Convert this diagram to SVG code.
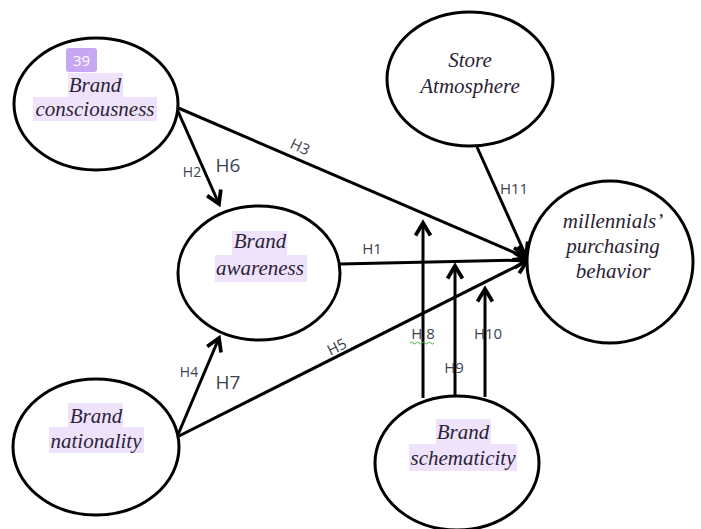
<svg xmlns="http://www.w3.org/2000/svg" width="701" height="529" viewBox="0 0 701 529">
<style>
.node{fill:#fff;stroke:#000;stroke-width:3}
.nt{font-family:"Liberation Serif",serif;font-style:italic;font-size:21px;fill:#2b2335;text-anchor:middle}
.hl{fill:#efe3fc}
.lbl{font-family:"Open Sans","Liberation Sans",sans-serif;fill:#3c4250;text-anchor:middle}
.ln{stroke:#000;stroke-width:3;fill:none}
</style>
<defs>
<marker id="ah" markerUnits="userSpaceOnUse" markerWidth="20" markerHeight="20" viewBox="-12 -8 14 16" refX="0" refY="0" orient="auto">
<path d="M-10,-6 L0,0 L-10,6" fill="none" stroke="#000" stroke-width="3"/>
</marker>
</defs>
<rect width="701" height="529" fill="#fff"/>
<g id="connectors">
<line class="ln" x1="176" y1="107" x2="527" y2="258" marker-end="url(#ah)"/>
<line class="ln" x1="177" y1="109" x2="219" y2="204" marker-end="url(#ah)"/>
<line class="ln" x1="340" y1="264" x2="527" y2="260" marker-end="url(#ah)"/>
<line class="ln" x1="177" y1="437" x2="527" y2="261" marker-end="url(#ah)"/>
<line class="ln" x1="177" y1="437" x2="219" y2="338" marker-end="url(#ah)"/>
<line class="ln" x1="477" y1="147" x2="526" y2="256" marker-end="url(#ah)"/>
<line class="ln" x1="423" y1="398" x2="423" y2="223" marker-end="url(#ah)"/>
<line class="ln" x1="455" y1="397" x2="455" y2="266" marker-end="url(#ah)"/>
<line class="ln" x1="485" y1="397" x2="485" y2="289" marker-end="url(#ah)"/>
<g class="lbl">
<text x="300" y="152" font-size="15" transform="rotate(25 300 147)">H3</text>
<text x="192" y="177" font-size="14">H2</text>
<text x="228" y="172" font-size="19">H6</text>
<text x="372" y="254" font-size="15">H1</text>
<text x="514" y="194" font-size="15">H11</text>
<text x="189" y="377" font-size="14">H4</text>
<text x="228" y="389" font-size="19">H7</text>
<text x="337" y="352" font-size="15" transform="rotate(-27 337 347)">H5</text>
<text x="423" y="339" font-size="15">H 8</text>
<text x="454" y="373" font-size="15">H9</text>
<text x="488" y="339" font-size="15">H10</text>
</g>
<path d="M410,343 q1.5,-2 3,0 t3,0 t3,0 t3,0 t3,0 t3,0 t3,0 t3,0" fill="none" stroke="#4caf50" stroke-width="1"/>
</g>
<g id="brand-consciousness">
<ellipse class="node" cx="96" cy="104" rx="82" ry="66"/>
<rect class="hl" x="68" y="73" width="55" height="24"/>
<rect class="hl" x="33" y="97" width="124" height="24"/>
<rect x="66" y="48" width="31" height="24" rx="3" fill="#c7a6f2"/>
<text x="81.5" y="66" font-family="Open Sans,Liberation Sans,sans-serif" font-size="15" fill="#fff" text-anchor="middle">39</text>
<text class="nt" x="95" y="92">Brand</text>
<text class="nt" x="95" y="116">consciousness</text>
</g>
<g id="brand-awareness">
<ellipse class="node" cx="259" cy="273" rx="81" ry="67"/>
<rect class="hl" x="232" y="231" width="55" height="24"/>
<rect class="hl" x="215" y="255" width="92" height="27"/>
<text class="nt" x="260" y="248">Brand</text>
<text class="nt" x="260" y="275">awareness</text>
</g>
<g id="brand-nationality">
<ellipse class="node" cx="96" cy="447" rx="83" ry="68"/>
<rect class="hl" x="68" y="403" width="55" height="24"/>
<rect class="hl" x="49" y="427" width="95" height="26"/>
<text class="nt" x="96" y="423">Brand</text>
<text class="nt" x="96" y="448">nationality</text>
</g>
<g id="store-atmosphere">
<ellipse class="node" cx="470" cy="79" rx="83" ry="67"/>
<text class="nt" x="470" y="67" font-size="17" fill="#333">Store</text>
<text class="nt" x="470" y="93" font-size="17" fill="#333">Atmosphere</text>
</g>
<g id="millennials-purchasing-behavior">
<ellipse class="node" cx="610" cy="262" rx="83" ry="81"/>
<text class="nt" x="613" y="228" font-size="22" fill="#2a2a2a">millennials’</text>
<text class="nt" x="613" y="253" font-size="22" fill="#2a2a2a">purchasing</text>
<text class="nt" x="613" y="278" font-size="22" fill="#2a2a2a">behavior</text>
</g>
<g id="brand-schematicity">
<ellipse class="node" cx="457" cy="463" rx="82" ry="67"/>
<rect class="hl" x="436" y="419" width="55" height="25"/>
<rect class="hl" x="409" y="444" width="108" height="27"/>
<text class="nt" x="463" y="439">Brand</text>
<text class="nt" x="463" y="465">schematicity</text>
</g>
</svg>
